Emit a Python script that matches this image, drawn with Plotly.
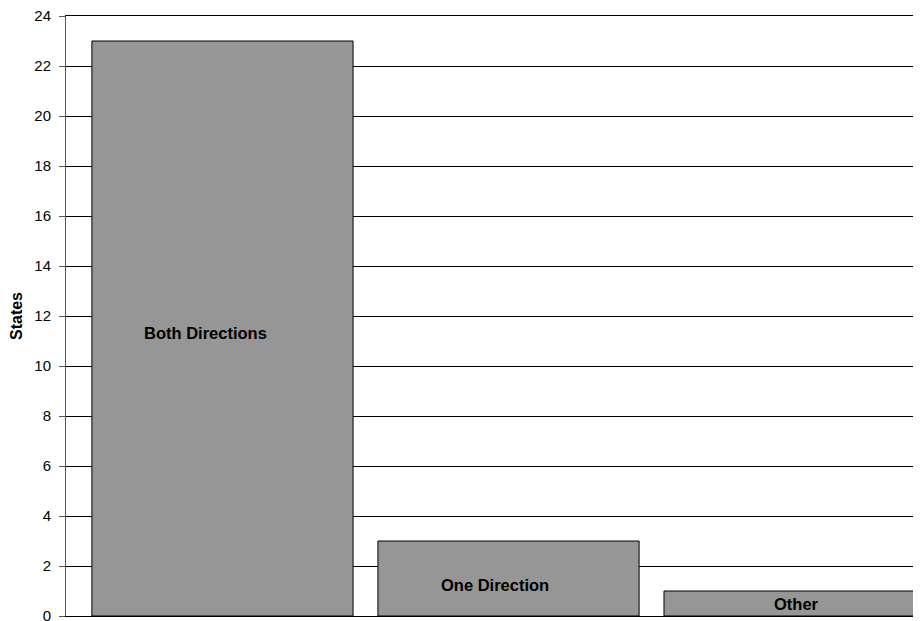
import plotly.graph_objects as go

categories = ["Both Directions", "One Direction", "Other"]
values = [23, 3, 1]
tick_vals = list(range(0, 25, 2))

xpos = [0, 1, 2]
label_x = [-0.059, -0.049, 0.005]
label_y = [11.32, 1.24, 0.48]

fig = go.Figure()
fig.add_trace(go.Bar(
    x=xpos, y=values, width=0.913,
    marker=dict(color="#969696", line=dict(color="#000000", width=1)),
    hoverinfo="skip",
))

for i, c in enumerate(categories):
    fig.add_annotation(
        x=xpos[i] + label_x[i], y=label_y[i], text="<b>" + c + "</b>",
        showarrow=False, xanchor="center", yanchor="middle",
        font=dict(family="Liberation Sans, Arial", size=16.5, color="#000000"),
    )

fig.update_layout(
    width=913, height=613,
    margin=dict(l=58, r=0, t=8, b=5, pad=0, autoexpand=False),
    paper_bgcolor="white", plot_bgcolor="white",
    showlegend=False,
    font=dict(family="Liberation Sans, Arial", size=15, color="#000000"),
    xaxis=dict(range=[-0.547, 2.442], showticklabels=False, showgrid=False,
               zeroline=False, showline=True, mirror=True, automargin=False,
               linecolor="#000000", linewidth=1, ticks=""),
    yaxis=dict(range=[0, 24], tickvals=tick_vals, showgrid=True,
               gridcolor="#000000", gridwidth=1, zeroline=False,
               showline=True, linecolor="#555555", linewidth=1,
               ticks="outside", ticklen=6, tickcolor="#555555",
               tickfont=dict(size=15), ticklabeloverflow="allow",
               ticklabelstandoff=5, automargin=False,
               title=dict(text="<b>States</b>", font=dict(size=16), standoff=10)),
)

fig.write_html("out.html")
